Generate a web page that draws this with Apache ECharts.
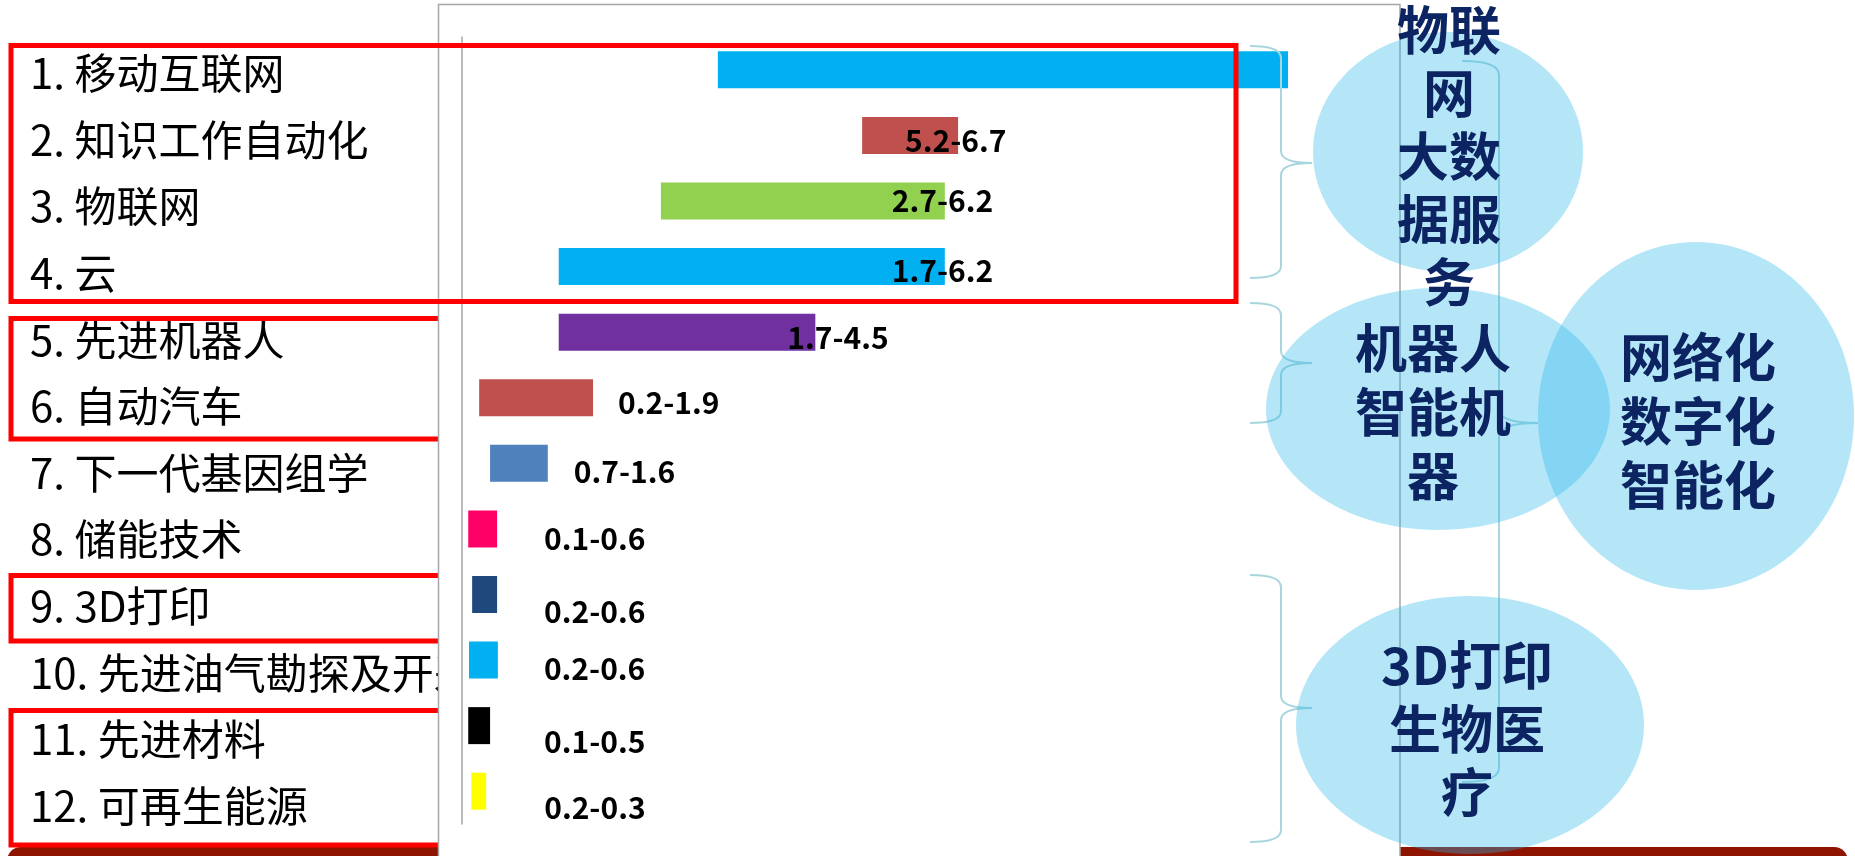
<!DOCTYPE html>
<html><head><meta charset="utf-8">
<script src="https://cdn.jsdelivr.net/npm/echarts@6/dist/echarts.min.js"></script>
<style>html,body{margin:0;padding:0;background:#fff;overflow:hidden}#c{width:1855px;height:856px}</style>
</head><body><div id="c"></div>
<script>
// ---- data ----
const categories = ['1. 移动互联网', '2. 知识工作自动化', '3. 物联网', '4. 云', '5. 先进机器人', '6. 自动汽车',
  '7. 下一代基因组学', '8. 储能技术', '9. 3D打印', '10. 先进油气勘探及开采', '11. 先进材料', '12. 可再生能源'];
const rangeStart = [3.28, 5.13, 2.55, 1.24, 1.24, 0.22, 0.36, 0.08, 0.13, 0.09, 0.08, 0.12];
const rangeEnd   = [10.59, 6.36, 6.19, 6.19, 4.53, 1.68, 1.10, 0.45, 0.45, 0.46, 0.36, 0.31];
const rangeLabels = ['', '5.2-6.7', '2.7-6.2', '1.7-6.2', '1.7-4.5', '0.2-1.9', '0.7-1.6', '0.1-0.6', '0.2-0.6', '0.2-0.6', '0.1-0.5', '0.2-0.3'];
const bubbleTexts = ['物联\n网\n大数\n据服\n务', '机器人\n智能机\n器', '网络化\n数字化\n智能化', '3D打印\n生物医\n疗'];

// ---- styles ----
const barColors = ['#00B0F0', '#C0504D', '#92D050', '#00B0F0', '#7030A0', '#C0504D', '#4F81BD', '#FF0066', '#1F497D', '#00B0F0', '#000000', '#FFFF00'];
const labelOffsets = [[0,0], [-53,5], [-53,0], [-53,4], [-28,5], [25,5], [26,8], [47,10], [47,17], [46,9], [54,16], [58,16]];
const FONT = '"Noto Sans CJK SC", "Noto Sans", sans-serif';

const chart = echarts.init(document.getElementById('c'), null, {renderer: 'canvas'});

function brace(x0, x1, x2, yTop, yTip, yBot, r, color, z) {
  const st = {stroke: color, lineWidth: 2, fill: 'none'};
  return [
    {type: 'bezierCurve', z, shape: {x1: x0, y1: yTop, cpx1: x1, cpy1: yTop, x2: x1, y2: yTop + r}, style: st},
    {type: 'line', z, shape: {x1: x1, y1: yTop + r, x2: x1, y2: yTip - r}, style: st},
    {type: 'bezierCurve', z, shape: {x1: x1, y1: yTip - r, cpx1: x1, cpy1: yTip, x2: x2, y2: yTip}, style: st},
    {type: 'bezierCurve', z, shape: {x1: x2, y1: yTip, cpx1: x1, cpy1: yTip, x2: x1, y2: yTip + r}, style: st},
    {type: 'line', z, shape: {x1: x1, y1: yTip + r, x2: x1, y2: yBot - r}, style: st},
    {type: 'bezierCurve', z, shape: {x1: x1, y1: yBot - r, cpx1: x1, cpy1: yBot, x2: x0, y2: yBot}, style: st}
  ];
}

const bubbleFill = 'rgba(39,183,235,0.35)';
const textColor = '#0C2462';
const braceColor = '#A9D6DE';

const elements = [
  // bottom strip
  {type: 'rect', z: 0.1, shape: {x: 7, y: 847, width: 1841, height: 30, r: 14}, style: {fill: '#8E1400'}},
  // lower red boxes (behind frame)
  {type: 'rect', z: 0.5, shape: {x: 11, y: 318.5, width: 480, height: 120.5}, style: {fill: 'none', stroke: '#FF0000', lineWidth: 5}},
  {type: 'rect', z: 0.5, shape: {x: 11, y: 575.5, width: 480, height: 65.5}, style: {fill: 'none', stroke: '#FF0000', lineWidth: 5}},
  {type: 'rect', z: 0.5, shape: {x: 11, y: 710.5, width: 480, height: 134.5}, style: {fill: 'none', stroke: '#FF0000', lineWidth: 5}},
  // chart frame
  {type: 'rect', z: 1, shape: {x: 438.5, y: 4.5, width: 961.5, height: 900}, style: {fill: '#FFFFFF', stroke: '#A6A6A6', lineWidth: 1.5}},
  // top red box (above bars)
  {type: 'rect', z: 4, shape: {x: 11, y: 45.5, width: 1225, height: 256}, style: {fill: 'none', stroke: '#FF0000', lineWidth: 5}},
  ...brace(1250, 1281, 1312, 46, 163, 278, 12, braceColor, 5),
  ...brace(1250, 1281, 1312, 303, 363, 423, 12, braceColor, 5),
  ...brace(1250, 1281, 1312, 575, 708, 842, 12, braceColor, 5),
  ...brace(1462, 1499, 1538, 61, 423, 782, 14, braceColor, 5),
  // bubbles
  {type: 'ellipse', z: 6, shape: {cx: 1448, cy: 152, rx: 135, ry: 120}, style: {fill: bubbleFill}},
  {type: 'ellipse', z: 6, shape: {cx: 1438, cy: 409, rx: 172, ry: 121}, style: {fill: bubbleFill}},
  {type: 'ellipse', z: 6, shape: {cx: 1696, cy: 416, rx: 158, ry: 174}, style: {fill: bubbleFill}},
  {type: 'ellipse', z: 6, shape: {cx: 1470, cy: 725, rx: 174, ry: 129}, style: {fill: bubbleFill}},
  // bubble texts
  {type: 'text', z: 7, x: 1449, y: 156, style: {text: bubbleTexts[0], fill: textColor, font: 'bold 52px ' + FONT, align: 'center', verticalAlign: 'middle', lineHeight: 63}},
  {type: 'text', z: 7, x: 1433, y: 412, style: {text: bubbleTexts[1], fill: textColor, font: 'bold 52px ' + FONT, align: 'center', verticalAlign: 'middle', lineHeight: 64}},
  {type: 'text', z: 7, x: 1698, y: 421, style: {text: bubbleTexts[2], fill: textColor, font: 'bold 52px ' + FONT, align: 'center', verticalAlign: 'middle', lineHeight: 64}},
  {type: 'text', z: 7, x: 1467, y: 729, style: {text: bubbleTexts[3], fill: textColor, font: 'bold 52px ' + FONT, align: 'center', verticalAlign: 'middle', lineHeight: 63.5}}
];

const spanData = rangeEnd.map((e, i) => ({
  value: +(e - rangeStart[i]).toFixed(3),
  itemStyle: {color: barColors[i]},
  label: {show: rangeLabels[i] !== '', offset: labelOffsets[i]}
}));

chart.setOption({
  animation: false,
  grid: [
    {left: 462, top: 37, width: 858, height: 787},
    {left: 10, top: 39.7, width: 12, height: 799.6}
  ],
  xAxis: [
    {gridIndex: 0, type: 'value', min: 0, max: 11, show: false},
    {gridIndex: 1, type: 'value', min: 0, max: 1, show: false}
  ],
  yAxis: [
    {gridIndex: 0, type: 'category', data: categories, inverse: true, z: 3,
      axisLine: {show: true, lineStyle: {color: '#A6A6A6', width: 1.5}}, axisTick: {show: false}, axisLabel: {show: false}, splitLine: {show: false}},
    {gridIndex: 1, type: 'category', data: categories, inverse: true, position: 'right', z: 0,
      axisLine: {show: false}, axisTick: {show: false}, splitLine: {show: false},
      axisLabel: {margin: 8, fontSize: 42, color: '#000', fontFamily: FONT, align: 'left'}}
  ],
  series: [
    {type: 'bar', xAxisIndex: 0, yAxisIndex: 0, stack: 'r', barWidth: 37, silent: true,
      itemStyle: {color: 'rgba(0,0,0,0)'}, data: rangeStart},
    {type: 'bar', xAxisIndex: 0, yAxisIndex: 0, stack: 'r', barWidth: 37,
      label: {show: true, position: 'right', distance: 0, color: '#000', fontSize: 30, fontWeight: 'bold', fontFamily: FONT,
        formatter: p => rangeLabels[p.dataIndex]},
      data: spanData}
  ],
  graphic: {elements}
});
</script></body></html>
